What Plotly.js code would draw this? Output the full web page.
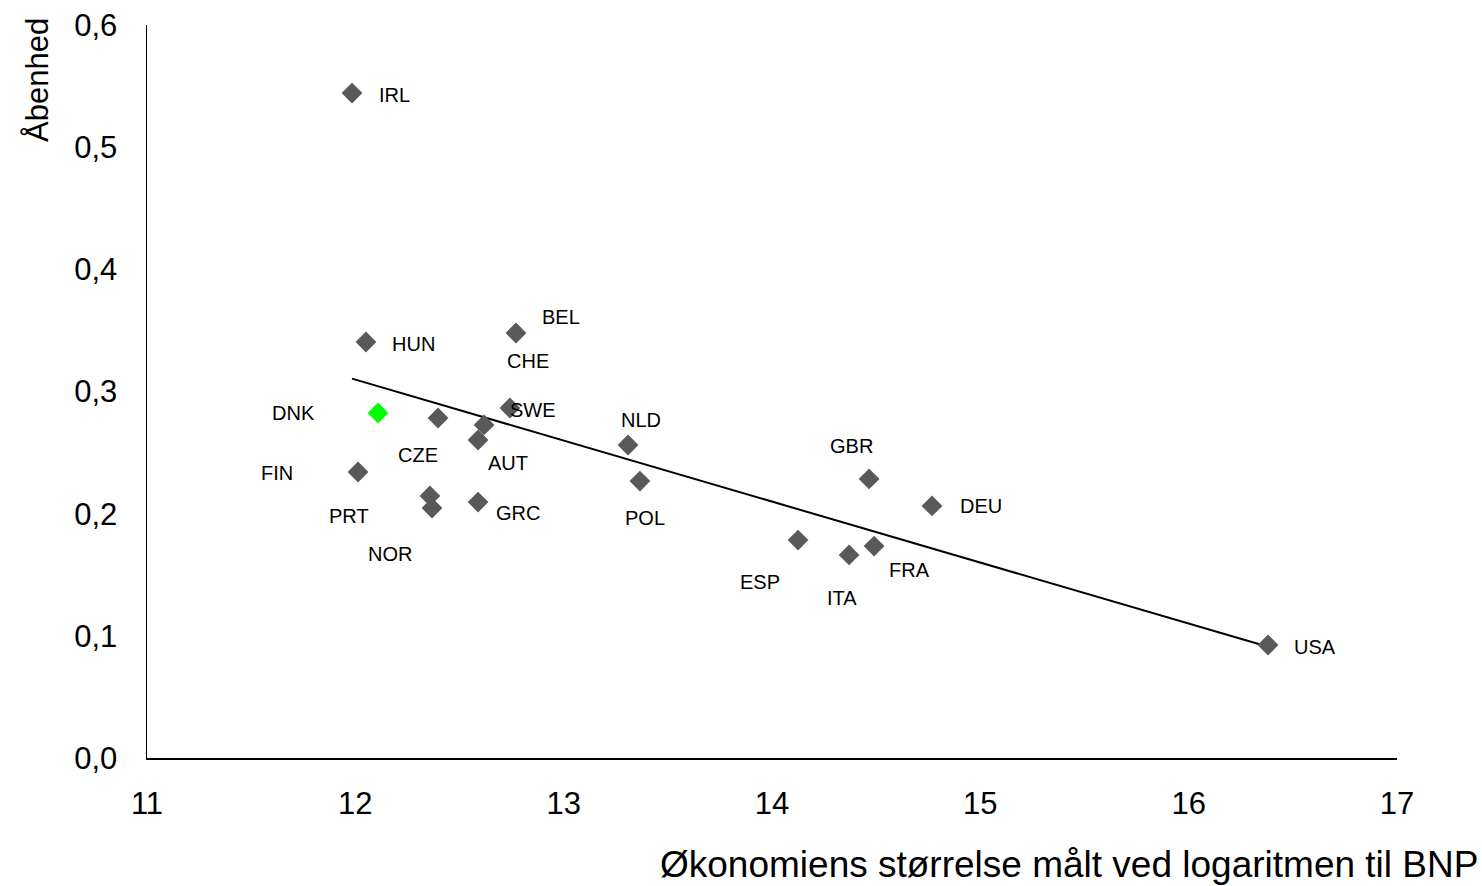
<!DOCTYPE html>
<html>
<head>
<meta charset="utf-8">
<script src="https://cdn.plot.ly/plotly-3.0.1.min.js"></script>
<style>html,body{margin:0;padding:0;background:#fff;}#chart{width:1482px;height:886px;}</style>
</head>
<body>
<div id="chart"></div>
<script>
// Data: country codes, log GDP (x), openness (y)
const countries = ["IRL","HUN","BEL","CHE","SWE","DNK","CZE","AUT","PRT","NOR","GRC","FIN","NLD","POL","GBR","DEU","ESP","ITA","FRA","USA"];
const logGDP    = [11.984,12.051,12.771,12.618,12.742,12.109,12.397,12.589,12.358,12.368,12.589,12.013,13.309,13.366,14.466,14.768,14.125,14.370,14.490,16.381];
const openness  = [0.5443,0.3405,0.3479,0.2726,0.2865,0.2824,0.2783,0.2603,0.2145,0.2046,0.2095,0.2341,0.2562,0.2267,0.2284,0.2063,0.1784,0.1662,0.1735,0.0925];
const highlight = "DNK";
const xTickVals = [11,12,13,14,15,16,17];
const yTickVals = [0,0.1,0.2,0.3,0.4,0.5,0.6];

// label placement offsets in pixels (styling only)
const labelShift = {
  IRL:[42,-2], HUN:[48,-2], BEL:[45,16], CHE:[44,64], SWE:[23,-2], DNK:[-85,0],
  CZE:[-20,-37], AUT:[30,-23], PRT:[-81,-20], NOR:[-42,-46], GRC:[40,-11], FIN:[-81,-1],
  NLD:[13,25], POL:[5,-37], GBR:[-18,33], DEU:[49,0], ESP:[-38,-42], ITA:[-7,-43],
  FRA:[35,-24], USA:[47,-2]
};

// linear regression trendline
const n = logGDP.length;
const mx = logGDP.reduce((a,b)=>a+b,0)/n;
const my = openness.reduce((a,b)=>a+b,0)/n;
let sxy=0, sxx=0;
for(let i=0;i<n;i++){ sxy += (logGDP[i]-mx)*(openness[i]-my); sxx += (logGDP[i]-mx)**2; }
const slope = sxy/sxx, intercept = my - slope*mx;
const xmin = Math.min(...logGDP), xmax = Math.max(...logGDP);

const FONT = "Liberation Sans, Arial, sans-serif";

const traces = [
  {
    x:[xmin,xmax], y:[intercept+slope*xmin, intercept+slope*xmax],
    mode:"lines", line:{color:"#000000", width:2}, hoverinfo:"skip", showlegend:false
  },
  {
    x:logGDP, y:openness, text:countries, mode:"markers",
    marker:{symbol:"diamond", size:16,
      color:countries.map(c=>c===highlight?"#00ff00":"#595959"), line:{width:0}},
    showlegend:false
  }
];

const annotations = countries.map((c,i)=>({
  x:logGDP[i], y:openness[i], xref:"x", yref:"y", text:c, showarrow:false,
  xshift:labelShift[c][0], yshift:labelShift[c][1],
  font:{family:FONT, size:20, color:"#000"}
}));
annotations.push({
  xref:"paper", yref:"paper", x:0, y:1, text:"Åbenhed", textangle:-90,
  xanchor:"center", yanchor:"top", xshift:-110, yshift:9, showarrow:false,
  font:{family:FONT, size:31, color:"#000"}
});
annotations.push({
  xref:"paper", yref:"paper", x:1, y:0, text:"Økonomiens størrelse målt ved logaritmen til BNP",
  xanchor:"right", yanchor:"middle", xshift:83, yshift:-106, showarrow:false,
  font:{family:FONT, size:37, color:"#000"}
});

const layout = {
  width:1482, height:886,
  margin:{l:147, r:85, t:25, b:128, autoexpand:false},
  paper_bgcolor:"#fff", plot_bgcolor:"#fff",
  separators:",.",
  font:{family:FONT, color:"#000"},
  xaxis:{range:[11,17], tickvals:xTickVals, ticktext:xTickVals.map(String),
    showgrid:false, zeroline:false, showline:true, linecolor:"#000", linewidth:1.5,
    ticks:"", ticklabelstandoff:17, tickfont:{family:FONT, size:31, color:"#000"}},
  yaxis:{range:[0,0.6], tickvals:yTickVals, tickformat:".1f",
    showgrid:false, zeroline:false, showline:true, linecolor:"#000", linewidth:1.5,
    ticks:"", ticklabelstandoff:22, tickfont:{family:FONT, size:31, color:"#000"}},
  annotations:annotations,
  showlegend:false
};

Plotly.newPlot("chart", traces, layout, {displayModeBar:false, staticPlot:true});
</script>
</body>
</html>
